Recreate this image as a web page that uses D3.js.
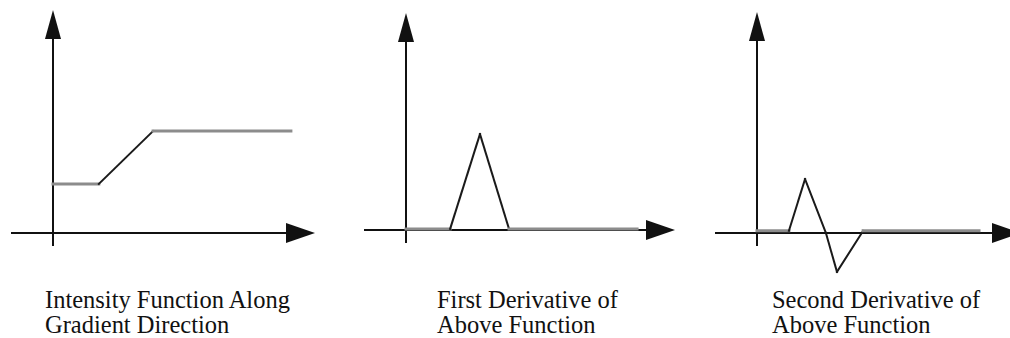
<!DOCTYPE html>
<html>
<head>
<meta charset="utf-8">
<script src="https://cdn.jsdelivr.net/npm/d3@7"></script>
<style>
  html, body { margin: 0; padding: 0; background: #fff; }
  svg { display: block; }
</style>
</head>
<body>
<svg id="chart" width="1010" height="338"></svg>
<script>
// Profiles along the gradient direction: [position, value]
const intensity = [[0, 2.2], [1.75, 2.2], [3.82, 4.57], [9.08, 4.57]];
const firstDerivative = [[0, 0.05], [1.64, 0.05], [2.75, 4.42], [3.83, 0.05], [8.59, 0.05]];
const secondDerivative = [[0, 0.1], [1.21, 0.1], [1.82, 2.44], [2.61, 0], [3.03, -1.76], [4.02, 0.1], [8.41, 0.1]];

const captions = [
  ["Intensity Function Along", "Gradient Direction"],
  ["First Derivative of", "Above Function"],
  ["Second Derivative of", "Above Function"]
];

// Panel layout: origin, axis lengths (to arrow tips) and caption position
const panels = [
  { data: intensity,        ox: 53,  oy: 233, xLen: 262, yLen: 223, tx: 45,  caption: captions[0] },
  { data: firstDerivative,  ox: 406, oy: 230, xLen: 269, yLen: 217, tx: 437, caption: captions[1] },
  { data: secondDerivative, ox: 757, oy: 233, xLen: 264, yLen: 221, tx: 772, caption: captions[2] }
];

const svg = d3.select("#chart");

panels.forEach(p => {
  const x = d3.scaleLinear().domain([0, 10]).range([p.ox, p.ox + p.xLen]);
  const y = d3.scaleLinear().domain([0, 10]).range([p.oy, p.oy - p.yLen]);
  const g = svg.append("g");

  const axisColor = "#111";
  const headLen = 29;

  // horizontal axis with arrowhead
  const xTip = x(10);
  g.append("line")
    .attr("x1", p.ox - 42).attr("x2", xTip - headLen + 2)
    .attr("y1", y(0)).attr("y2", y(0))
    .attr("stroke", axisColor).attr("stroke-width", 2);
  g.append("path")
    .attr("d", `M${xTip},${y(0)} L${xTip - headLen},${y(0) - 10} L${xTip - headLen},${y(0) + 10} Z`)
    .attr("fill", axisColor);

  // vertical axis with arrowhead
  const yTip = y(10);
  g.append("line")
    .attr("x1", x(0)).attr("x2", x(0))
    .attr("y1", p.oy + 13).attr("y2", yTip + headLen - 2)
    .attr("stroke", axisColor).attr("stroke-width", 2);
  g.append("path")
    .attr("d", `M${x(0)},${yTip} L${x(0) - 8},${yTip + headLen} L${x(0) + 8},${yTip + headLen} Z`)
    .attr("fill", axisColor);

  // profile: flat runs in grey, slopes in dark ink
  const segs = d3.pairs(p.data);
  g.selectAll("line.seg")
    .data(segs)
    .join("line")
    .attr("class", "seg")
    .attr("x1", d => x(d[0][0])).attr("y1", d => y(d[0][1]))
    .attr("x2", d => x(d[1][0])).attr("y2", d => y(d[1][1]))
    .attr("stroke", d => d[0][1] === d[1][1] ? "#8c8c8c" : "#1a1a1a")
    .attr("stroke-width", d => d[0][1] === d[1][1] ? 3 : 2)
    .attr("stroke-linecap", "square");

  // caption, two lines, slightly tall letterforms
  p.caption.forEach((line, i) => {
    g.append("text")
      .attr("transform", `translate(${p.tx},${308 + i * 25}) scale(1,1.06)`)
      .attr("font-family", "'Liberation Serif', 'Times New Roman', serif")
      .attr("font-size", 24.5)
      .attr("fill", "#111")
      .text(line);
  });
});
</script>
</body>
</html>
